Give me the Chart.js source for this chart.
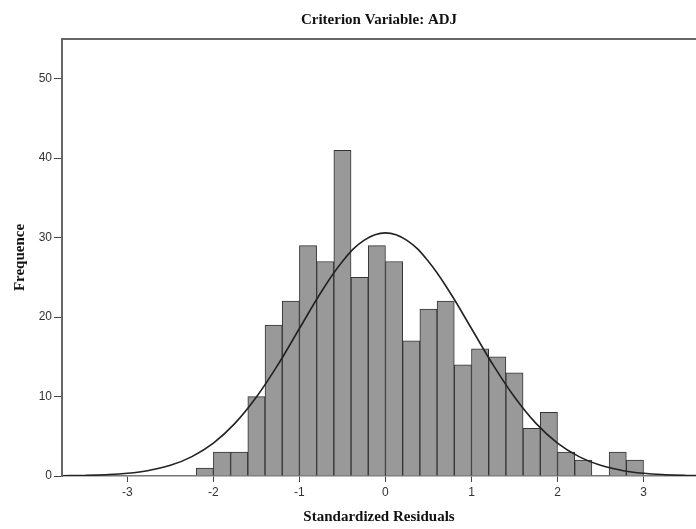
<!DOCTYPE html>
<html>
<head>
<meta charset="utf-8">
<script src="https://cdn.jsdelivr.net/npm/chart.js@4.4.0/dist/chart.umd.min.js"></script>
<style>
  html, body { margin: 0; padding: 0; background: #fff; }
  #wrap { width: 696px; height: 529px; }
</style>
</head>
<body>
<div id="wrap"><canvas id="chart" width="696" height="529"></canvas></div>
<script>
// bin centres (width 0.2) and counts
var binCenters = [-2.1, -1.9, -1.7, -1.5, -1.3, -1.1, -0.9, -0.7, -0.5, -0.3, -0.1,
                  0.1, 0.3, 0.5, 0.7, 0.9, 1.1, 1.3, 1.5, 1.7, 1.9, 2.1, 2.3, 2.5, 2.7, 2.9];
var counts = [1, 3, 3, 10, 19, 22, 29, 27, 41, 25, 29,
              27, 17, 21, 22, 14, 16, 15, 13, 6, 8, 3, 2, 0, 3, 2];

// normal curve
var curveX = [-3.75, -3.5, -3.25, -3, -2.75, -2.5, -2.25, -2, -1.75, -1.5, -1.25, -1, -0.75, -0.5, -0.25, 0,
              0.25, 0.5, 0.75, 1, 1.25, 1.5, 1.75, 2, 2.25, 2.5, 2.75, 3, 3.25, 3.5, 3.75];
var curveY = [0.03, 0.07, 0.16, 0.34, 0.7, 1.34, 2.44, 4.14, 6.62, 9.94, 14.0, 18.56, 23.1, 27.0, 29.66, 30.6,
              29.66, 27.0, 23.1, 18.56, 14.0, 9.94, 6.62, 4.14, 2.44, 1.34, 0.7, 0.34, 0.16, 0.07, 0.03];

var xTicks = [-3, -2, -1, 0, 1, 2, 3];
var yTicks = [0, 10, 20, 30, 40, 50];

var bars = binCenters.map(function(x, i){ return {x: x, y: counts[i]}; });
var curve = curveX.map(function(x, i){ return {x: x, y: curveY[i]}; });

var serif = '"Liberation Serif", "Times New Roman", serif';
var sans = '"Liberation Sans", Arial, sans-serif';

var topBorder = {
  id: 'topBorder',
  afterDraw: function(chart){
    var a = chart.chartArea, ctx = chart.ctx;
    ctx.save();
    ctx.strokeStyle = '#666';
    ctx.lineWidth = 2;
    ctx.beginPath();
    ctx.moveTo(a.left - 1, a.top);
    ctx.lineTo(a.right, a.top);
    ctx.stroke();
    ctx.restore();
  }
};

var datos = {
  type: 'bar',
  data: {
    datasets: [{
      type: 'line',
      data: curve,
      borderColor: '#222',
      borderWidth: 1.6,
      pointRadius: 0,
      tension: 0.4,
      fill: false,
      order: 0
    }, {
      type: 'bar',
      data: bars,
      backgroundColor: '#999999',
      borderColor: '#333',
      borderWidth: 1,
      barPercentage: 1.0,
      categoryPercentage: 1.0,
      order: 1
    }]
  },
  options: {
    responsive: false,
    animation: false,
    layout: { padding: 0 },
    plugins: {
      legend: { display: false },
      tooltip: { enabled: false },
      title: {
        display: true,
        fullSize: false,
        text: 'Criterion Variable: ADJ',
        color: '#111',
        font: { family: serif, size: 15, weight: 'bold' },
        padding: { top: 11, bottom: 10 }
      }
    },
    scales: {
      x: {
        type: 'linear',
        offset: false,
        min: -3.76,
        max: 3.61,
        afterFit: function(s){ s.height = 53; },
        afterBuildTicks: function(s){ s.ticks = xTicks.map(function(v){ return {value: v}; }); },
        ticks: { color: '#333', font: { family: sans, size: 12 }, padding: 3, maxRotation: 0 },
        grid: { display: true, offset: false, drawOnChartArea: false, drawTicks: true, tickLength: 6, color: '#444' },
        border: { display: true, color: '#777', width: 1.5 },
        title: {
          display: true,
          text: 'Standardized Residuals',
          color: '#111',
          font: { family: serif, size: 15, weight: 'bold' },
          padding: { top: 0, bottom: 3 }
        }
      },
      y: {
        min: 0,
        max: 55,
        afterFit: function(s){ s.width = 62; },
        afterBuildTicks: function(s){ s.ticks = yTicks.map(function(v){ return {value: v}; }); },
        ticks: { color: '#333', font: { family: sans, size: 12 }, padding: 2 },
        grid: { display: true, drawOnChartArea: false, drawTicks: true, tickLength: 8, color: '#444' },
        border: { display: true, color: '#666', width: 2 },
        title: {
          display: true,
          text: 'Frequence',
          color: '#111',
          font: { family: serif, size: 15, weight: 'bold' },
          padding: { top: 11, bottom: 0 }
        }
      }
    }
  },
  plugins: [topBorder]
};

var canvas = document.getElementById('chart').getContext('2d');
window.hist = new Chart(canvas, datos);
</script>
</body>
</html>
